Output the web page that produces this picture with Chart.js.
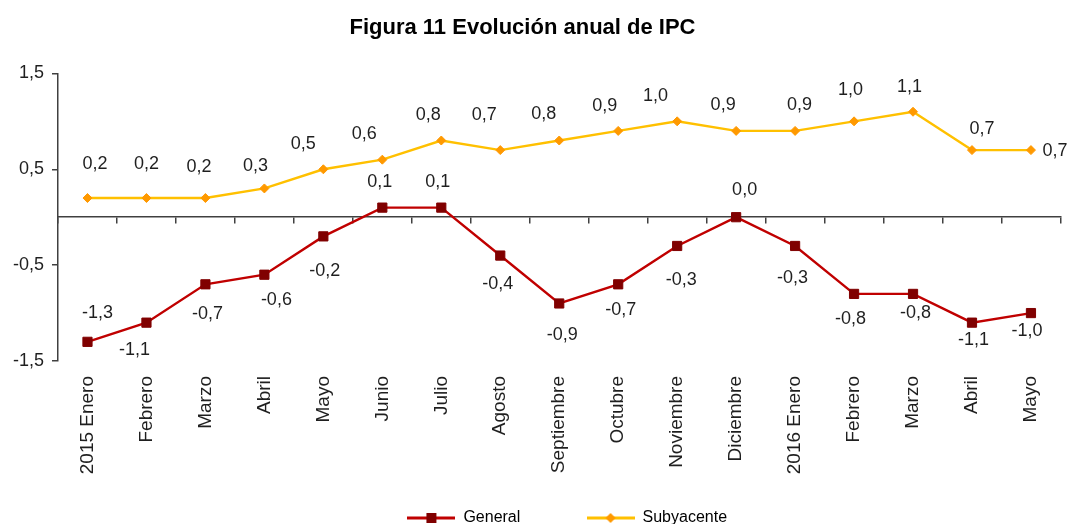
<!DOCTYPE html>
<html>
<head>
<meta charset="utf-8">
<script src="https://cdn.jsdelivr.net/npm/chart.js@4"></script>
<style>
  html, body { margin: 0; padding: 0; background: #fff; }
  #wrap { width: 1069px; height: 524px; }
</style>
</head>
<body>
<div id="wrap"><canvas id="c" width="1069" height="524"></canvas></div>
<script>
// ---- data ----
const categories = ['2015 Enero','Febrero','Marzo','Abril','Mayo','Junio','Julio','Agosto','Septiembre','Octubre','Noviembre','Diciembre','2016 Enero','Febrero','Marzo','Abril','Mayo'];
const general = [-1.3,-1.1,-0.7,-0.6,-0.2,0.1,0.1,-0.4,-0.9,-0.7,-0.3,0.0,-0.3,-0.8,-0.8,-1.1,-1.0];
const subyacente = [0.2,0.2,0.2,0.3,0.5,0.6,0.8,0.7,0.8,0.9,1.0,0.9,0.9,1.0,1.1,0.7,0.7];
const yTicks = [-1.5,-0.5,0.5,1.5];

// ---- label placement (offsets relative to each point, px) ----
const generalLabelOffsets = [[10,-29],[-12,27],[2,30],[12,25],[1.5,35],[-2.5,-26],[-3.5,-26],[-2.5,28],[3,31.5],[2.5,25.5],[4,34],[8.5,-27],[-2.5,32],[-3.5,25.5],[2.5,19.5],[1.5,17],[-4,17.5]];
const subyacenteLabelOffsets = [[7.5,-34],[0,-34],[-6.5,-31],[-9,-22],[-20,-25],[-18,-25.5],[-13,-25],[-16,-35],[-15.5,-26.5],[-13.5,-25],[-21.7,-25],[-13,-26],[4.5,-26],[-3.5,-31],[-3.5,-25],[10,-21],[24,1]];

const FONT = "'Liberation Sans', Arial, sans-serif";
const fmt = v => v.toFixed(1).replace('.', ',').replace('-0,0','0,0');

function legendImage(lineColor, markColor, shape) {
  const c = document.createElement('canvas');
  c.width = 48; c.height = 14;
  const g = c.getContext('2d');
  g.strokeStyle = lineColor; g.lineWidth = 3;
  g.beginPath(); g.moveTo(0, 7); g.lineTo(48, 7); g.stroke();
  g.fillStyle = markColor;
  if (shape === 'rect') {
    g.fillRect(19, 2, 10, 10);
  } else {
    g.beginPath(); g.moveTo(24, 2); g.lineTo(29, 7); g.lineTo(24, 12); g.lineTo(19, 7); g.closePath(); g.fill();
  }
  return c;
}
const legendImgs = [legendImage('#C00000', '#800000', 'rect'), legendImage('#FFC000', '#FF9900', 'diamond')];
const legendTexts = ['General' + ' '.repeat(14), 'Subyacente'];

const labelPlugin = {
  id: 'pointLabels',
  afterDatasetsDraw(chart) {
    const ctx = chart.ctx;
    const sets = [[0, general, generalLabelOffsets], [1, subyacente, subyacenteLabelOffsets]];
    ctx.save();
    ctx.font = '18px ' + FONT;
    ctx.fillStyle = '#1f1f1f';
    ctx.textAlign = 'center';
    ctx.textBaseline = 'middle';
    sets.forEach(([di, vals, offs]) => {
      const meta = chart.getDatasetMeta(di);
      meta.data.forEach((pt, i) => {
        ctx.fillText(fmt(vals[i]), pt.x + offs[i][0], pt.y + offs[i][1]);
      });
    });
    ctx.restore();
  }
};

const blockShift = {
  id: 'blockShift',
  afterLayout(chart) {
    if (chart.legend) { chart.legend.left += 8; chart.legend.right += 8; }
    if (chart.titleBlock) { chart.titleBlock.left -= 8; chart.titleBlock.right -= 8; }
  }
};

new Chart(document.getElementById('c'), {
  type: 'line',
  data: {
    labels: categories,
    datasets: [
      {
        label: 'General', data: general,
        borderColor: '#C00000', borderWidth: 2.4,
        pointStyle: 'rect', pointRadius: 6.5, pointBackgroundColor: '#800000', pointBorderColor: '#800000', pointBorderWidth: 1,
        tension: 0, xAxisID: 'x', yAxisID: 'y'
      },
      {
        label: 'Subyacente', data: subyacente,
        borderColor: '#FFC000', borderWidth: 2.4,
        pointStyle: 'rectRot', pointRadius: 4.5, pointBackgroundColor: '#FF9900', pointBorderColor: '#FF9900', pointBorderWidth: 1,
        tension: 0, xAxisID: 'x', yAxisID: 'y'
      }
    ]
  },
  options: {
    responsive: false,
    animation: false,
    layout: { padding: { left: 0, right: 8, top: 0, bottom: -12 } },
    plugins: {
      tooltip: { enabled: false },
      title: {
        display: true,
        text: 'Figura 11 Evolución anual de IPC',
        font: { family: FONT, size: 22, weight: 'bold' },
        color: '#000',
        padding: { top: 15, bottom: 32 }
      },
      legend: {
        position: 'bottom',
        fullSize: false,
        labels: {
          usePointStyle: true,
          pointStyleWidth: 48,
          padding: 4,
          font: { family: FONT, size: 16 },
          color: '#1f1f1f',
          generateLabels(chart) {
            return chart.data.datasets.map((ds, i) => ({
              text: legendTexts[i],
              pointStyle: legendImgs[i],
              fillStyle: 'transparent', strokeStyle: 'transparent', lineWidth: 0,
              hidden: false, datasetIndex: i
            }));
          }
        }
      }
    },
    scales: {
      x: {
        type: 'category',
        position: 'bottom',
        offset: true,
        grid: { display: false, drawTicks: false },
        border: { display: false },
        ticks: {
          autoSkip: false, minRotation: 90, maxRotation: 90, padding: 15,
          font: { family: FONT, size: 19 }, color: '#1f1f1f'
        },
        afterFit(s) { s.height = 145; }
      },
      x0: {
        type: 'category',
        position: { y: 0 },
        offset: true,
        grid: { display: true, drawOnChartArea: false, drawTicks: true, tickLength: 6, offset: true, color: '#404040', lineWidth: 1.5 },
        border: { display: true, color: '#404040', width: 1.5 },
        ticks: { display: false },
        afterFit(s) { s.height = 0; }
      },
      y: {
        type: 'linear',
        min: -1.5, max: 1.5,
        afterBuildTicks(s) { s.ticks = yTicks.map(v => ({ value: v })); },
        grid: { display: true, drawOnChartArea: false, drawTicks: true, tickLength: 6, color: '#404040', lineWidth: 1.5 },
        border: { display: true, color: '#404040', width: 1.5 },
        ticks: {
          padding: 8,
          font: { family: FONT, size: 18 }, color: '#1f1f1f',
          callback: v => fmt(v)
        },
        afterFit(s) { s.width = 58; }
      }
    }
  },
  plugins: [labelPlugin, blockShift]
});
</script>
</body>
</html>
